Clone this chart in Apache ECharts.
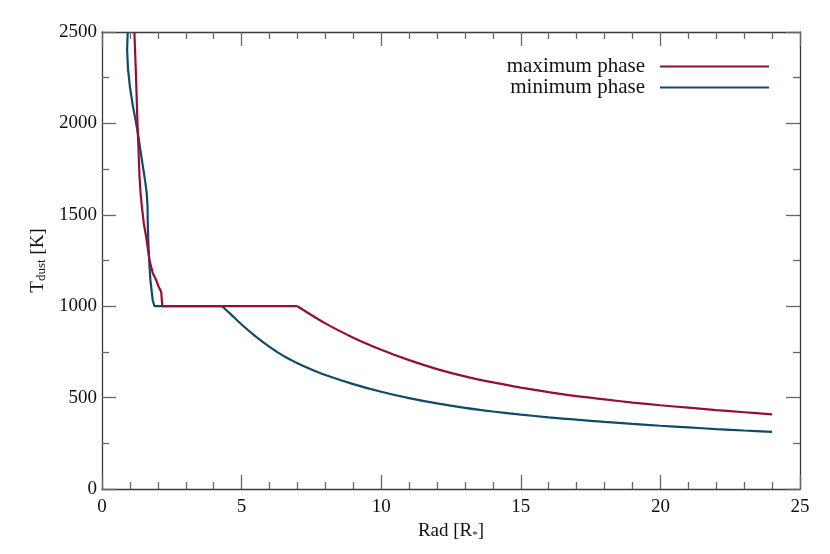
<!DOCTYPE html>
<html>
<head>
<meta charset="utf-8">
<script src="https://cdn.jsdelivr.net/npm/echarts@6/dist/echarts.min.js"></script>
<style>
html, body { margin: 0; padding: 0; background: #fff; }
#graph { width: 830px; height: 554px; }
</style>
</head>
<body>
<div id="graph"></div>
<script>
// radius [R*] and dust temperature [K]
// inner part (steep drop + 1000 K plateau) and outer tail, per phase
var maxRadIn = [1.16, 1.22, 1.27, 1.31, 1.34, 1.38, 1.43, 1.50, 1.58, 1.70, 1.82, 1.94, 2.03, 2.12, 2.16, 7.0];
var maxTempIn = [2500, 2250, 2000, 1850, 1720, 1620, 1540, 1450, 1380, 1253, 1180, 1143, 1106, 1079, 1000, 1000];
var maxRadOut = [7.0, 8.0, 9.0, 10.0, 11.0, 12.0, 13.0, 14.0, 15.0, 16.0, 17.0, 18.0, 19.0, 20.0, 21.0, 22.0, 23.0, 24.0];
var maxTempOut = [1000, 906, 828, 762, 705, 656, 616, 583, 555, 530, 508, 490, 473, 458, 445, 432, 420, 408];

var minRadIn = [0.92, 0.90, 0.93, 1.00, 1.10, 1.20, 1.28, 1.38, 1.48, 1.55, 1.60, 1.63, 1.64, 1.66, 1.69, 1.73, 1.78, 1.82, 1.88, 4.3];
var minTempIn = [2500, 2400, 2300, 2200, 2100, 2020, 1950, 1850, 1750, 1680, 1620, 1550, 1450, 1350, 1250, 1150, 1080, 1030, 1000, 1000];
var minRadOut = [4.3, 4.6, 5.0, 5.5, 6.0, 6.5, 7.0, 7.5, 8.0, 9.0, 10.0, 11.0, 12.0, 13.0, 14.0, 15.0, 16.0, 17.0, 18.0, 19.0, 20.0, 21.0, 22.0, 23.0, 24.0];
var minTempOut = [1000, 958, 900, 835, 778, 728, 688, 654, 624, 574, 532, 497, 468, 444, 424, 407, 392, 379, 367, 356, 346, 337, 328, 320, 313];

var names = ['maximum phase', 'minimum phase'];

function pairs(xs, ys) {
    var out = [];
    for (var i = 0; i < xs.length; i++) out.push([xs[i], ys[i]]);
    return out;
}

var font = 'Liberation Serif';
var lineCol = '#3a3a3a';
var tickCol = '#666';
var red = '#960e33';
var blue = '#0f4a6b';

function frameAxis(pos, isX, showLabel) {
    var ax = {
        type: 'value',
        position: pos,
        min: 0,
        max: isX ? 25 : 2500,
        interval: isX ? 5 : 500,
        splitLine: { show: false },
        axisLine: { show: true, onZero: false, lineStyle: { color: lineCol, width: 1.3 } },
        axisTick: { show: true, inside: true, length: 14, lineStyle: { color: tickCol, width: 1.3 } },
        minorTick: { show: true, splitNumber: isX ? 5 : 2, length: 7, lineStyle: { color: tickCol, width: 1.3 } },
        axisLabel: {
            show: showLabel,
            fontFamily: font,
            fontSize: 19,
            color: '#111',
            margin: isX ? 9 : 5,
            formatter: function (v) { return String(v); }
        }
    };
    return ax;
}

var myChart = echarts.init(document.getElementById('graph'));

var xBottom = frameAxis('bottom', true, true);
xBottom.name = '{a|Rad [R}{s|*}{a|]}';
xBottom.nameLocation = 'middle';
xBottom.nameGap = 19;
xBottom.nameTextStyle = {
    rich: {
        a: { fontFamily: font, fontSize: 19, color: '#111' },
        s: { fontFamily: font, fontSize: 11, color: '#111', verticalAlign: 'bottom', padding: [8, 0, 0, 0] }
    }
};

var yLeft = frameAxis('left', false, true);
yLeft.name = '{a|T}{s|dust}{a| [K]}';
yLeft.nameLocation = 'middle';
yLeft.nameGap = 47;
yLeft.nameTextStyle = {
    rich: {
        a: { fontFamily: font, fontSize: 19, color: '#111' },
        s: { fontFamily: font, fontSize: 13, color: '#111', verticalAlign: 'bottom', padding: [8, 0, 0, 0] }
    }
};

function lineSeries(name, color, z, data, smooth) {
    return {
        name: name,
        type: 'line',
        symbol: 'none',
        z: z,
        color: color,
        smooth: smooth,
        lineStyle: { width: 2.2, color: color },
        data: data
    };
}

var option = {
    animation: false,
    backgroundColor: '#fff',
    grid: { left: 102, right: 30, top: 32, bottom: 65 },
    legend: {
        orient: 'vertical',
        right: 56,
        top: 51,
        align: 'right',
        itemGap: 0,
        itemWidth: 109,
        itemHeight: 2,
        icon: 'rect',
        data: names,
        textStyle: { fontFamily: font, fontSize: 21, color: '#111', lineHeight: 20, padding: [0, 10, 0, 0] }
    },
    xAxis: [xBottom, frameAxis('top', true, false)],
    yAxis: [yLeft, frameAxis('right', false, false)],
    series: [
        lineSeries(names[1], blue, 2, pairs(minRadIn, minTempIn), false),
        lineSeries(names[1], blue, 2, pairs(minRadOut, minTempOut), 0.3),
        lineSeries(names[0], red, 3, pairs(maxRadIn, maxTempIn), false),
        lineSeries(names[0], red, 3, pairs(maxRadOut, maxTempOut), 0.3)
    ]
};

myChart.setOption(option);
</script>
</body>
</html>
